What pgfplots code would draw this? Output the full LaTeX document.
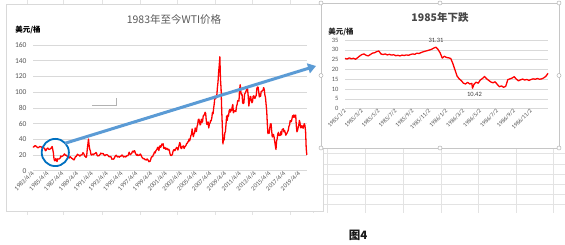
\documentclass[border=0pt]{standalone}
\usepackage{pgfplots}
\pgfplotsset{compat=1.18}
\usepackage{pgfplotstable}
\usetikzlibrary{arrows.meta}
\usepackage{fontspec}
\setmainfont{Carlito}
\newfontfamily\cjk{Noto Sans CJK SC}
\definecolor{tickgray}{HTML}{595959}
\definecolor{gridgray}{HTML}{D9D9D9}
\definecolor{sheetgray}{HTML}{E3E3E3}
\definecolor{arrowblue}{HTML}{5B9BD5}
\definecolor{circblue}{HTML}{0070C0}
\definecolor{wtired}{HTML}{FF0000}

% monthly WTI, Apr 1983 ... Apr 2020
\pgfplotstableread[row sep=\\, header=false]{
30.6\\30.0\\31.0\\31.7\\31.9\\31.1\\30.4\\29.8\\29.2\\
29.7\\30.1\\30.8\\30.6\\30.5\\29.8\\28.7\\29.2\\29.3\\28.8\\28.1\\25.4\\
25.6\\27.3\\28.2\\28.8\\27.6\\27.1\\27.3\\27.8\\28.3\\29.5\\30.8\\27.2\\
22.9\\15.4\\12.6\\12.8\\15.4\\13.5\\11.6\\15.1\\14.9\\14.9\\15.2\\16.1\\
18.7\\17.7\\18.3\\18.6\\19.4\\20.0\\21.4\\20.3\\19.5\\19.8\\18.9\\17.3\\
17.1\\16.8\\16.2\\17.9\\17.4\\16.5\\15.5\\15.5\\14.5\\13.8\\14.0\\16.3\\
18.0\\17.9\\19.4\\21.0\\20.0\\20.0\\19.6\\18.5\\19.6\\20.1\\19.8\\21.1\\
22.9\\22.1\\20.4\\18.4\\18.2\\16.9\\18.6\\27.2\\33.7\\40.4\\32.3\\27.3\\
25.2\\20.5\\19.9\\20.8\\21.2\\20.2\\21.4\\21.7\\21.9\\23.2\\22.5\\19.5\\
18.8\\19.0\\18.9\\20.2\\20.9\\22.4\\21.8\\21.4\\21.9\\21.7\\20.3\\19.4\\
19.1\\20.1\\20.3\\20.3\\19.9\\19.1\\17.9\\18.0\\17.5\\18.2\\16.7\\14.5\\
15.0\\14.8\\14.7\\16.4\\17.9\\19.1\\19.7\\18.4\\17.5\\17.7\\18.1\\17.2\\
18.0\\18.5\\18.6\\19.9\\19.7\\18.4\\17.3\\18.0\\18.2\\17.4\\18.0\\19.0\\
18.9\\19.1\\21.4\\23.6\\21.2\\20.4\\21.3\\22.0\\24.0\\24.9\\23.7\\25.4\\
25.2\\22.2\\21.0\\19.7\\20.8\\19.2\\19.6\\19.9\\19.8\\21.3\\20.2\\18.3\\
16.7\\16.1\\15.0\\15.4\\14.9\\13.7\\14.2\\13.5\\15.0\\14.4\\12.9\\11.3\\
12.5\\12.0\\14.7\\17.3\\17.8\\17.9\\20.1\\21.3\\23.9\\22.6\\25.0\\26.1\\
27.3\\29.4\\29.9\\25.7\\28.8\\31.8\\29.8\\31.2\\33.9\\33.1\\34.4\\28.4\\
29.6\\29.6\\27.2\\27.4\\28.6\\27.6\\26.4\\27.4\\26.2\\22.2\\19.6\\19.3\\
19.7\\20.7\\24.4\\26.3\\27.0\\25.5\\26.9\\28.4\\29.7\\28.9\\26.3\\29.4\\
32.9\\35.9\\33.6\\28.3\\28.1\\30.7\\30.8\\31.6\\28.3\\30.3\\31.1\\32.1\\
34.3\\34.7\\36.7\\36.7\\40.3\\38.0\\40.7\\44.9\\45.9\\53.1\\48.5\\43.3\\
46.8\\48.0\\54.3\\53.0\\49.8\\56.3\\58.7\\65.0\\65.6\\62.4\\58.3\\59.4\\
65.5\\61.6\\62.7\\69.4\\70.8\\70.9\\74.4\\73.0\\63.8\\58.9\\59.1\\62.0\\
54.5\\59.3\\60.4\\63.9\\63.5\\67.5\\74.1\\72.4\\79.9\\85.8\\94.8\\91.7\\
93.0\\95.4\\105.5\\112.6\\125.4\\133.9\\145.0\\116.7\\104.1\\76.6\\57.3\\34.0\\
41.7\\39.1\\47.9\\49.7\\59.0\\69.6\\64.1\\71.0\\69.4\\75.7\\78.0\\74.5\\
78.3\\76.4\\81.2\\84.3\\73.7\\75.3\\76.3\\76.6\\75.2\\81.9\\84.3\\89.2\\
89.2\\88.6\\102.9\\109.5\\100.9\\96.3\\97.3\\86.3\\85.5\\86.3\\97.2\\98.6\\
100.3\\102.2\\106.2\\103.3\\94.7\\82.3\\87.9\\94.1\\94.5\\89.5\\86.5\\87.9\\
94.8\\95.3\\92.9\\92.0\\94.5\\95.8\\104.6\\106.6\\106.3\\100.5\\93.9\\97.6\\
94.6\\100.8\\100.8\\102.1\\102.2\\105.8\\103.6\\96.5\\93.2\\84.4\\75.8\\59.3\\
47.2\\50.6\\47.8\\54.5\\59.3\\59.8\\50.9\\42.9\\45.5\\46.2\\42.4\\37.2\\
31.7\\27.0\\37.6\\40.8\\46.7\\48.8\\44.7\\44.7\\45.2\\49.8\\45.7\\52.0\\
52.5\\53.5\\49.3\\51.1\\48.5\\45.2\\46.6\\48.0\\49.8\\51.6\\56.6\\57.9\\
63.7\\62.2\\62.7\\66.3\\70.0\\67.9\\71.0\\68.1\\70.2\\70.8\\57.0\\49.5\\
51.4\\55.0\\58.2\\63.9\\60.8\\54.7\\57.4\\54.8\\57.0\\54.0\\57.0\\59.9\\
57.5\\50.5\\29.2\\20.0\\
}\wti

% 1985-1986, x in months since 1985/1/2
\pgfplotstableread{
m v
0.00 25.6
0.25 25.3
0.50 25.9
0.75 25.4
1.00 25.7
1.25 25.2
1.50 26.0
1.75 26.9
2.00 27.6
2.25 27.9
2.50 27.2
2.75 26.9
3.00 27.6
3.25 28.3
3.50 28.5
3.75 29.1
4.00 29.4
4.25 27.9
4.50 27.6
4.75 27.9
5.00 27.4
5.25 27.7
5.50 27.3
5.75 27.5
6.00 27.0
6.25 27.2
6.50 26.9
6.75 27.3
7.00 27.1
7.25 27.4
7.50 27.2
7.75 27.6
8.00 27.9
8.25 27.7
8.50 28.3
8.75 28.1
9.00 28.6
9.25 29.0
9.50 29.3
9.75 29.6
10.00 29.9
10.25 30.3
10.50 30.9
10.75 31.31
11.00 30.2
11.25 28.4
11.50 25.8
11.75 26.7
12.00 26.1
12.25 25.9
12.50 25.6
12.75 23.0
13.00 19.8
13.25 16.6
13.50 15.2
13.75 14.3
14.00 13.0
14.25 12.6
14.50 13.4
14.75 12.6
15.00 12.9
15.07 10.42
15.25 12.4
15.50 13.5
15.75 13.0
16.00 14.6
16.25 15.4
16.50 16.4
16.75 15.2
17.00 14.4
17.25 13.6
17.50 13.2
17.75 13.7
18.00 12.4
18.25 11.2
18.50 11.6
18.75 10.9
19.00 11.4
19.25 14.8
19.50 15.2
19.75 15.6
20.00 16.3
20.25 15.1
20.50 14.2
20.75 14.7
21.00 15.1
21.25 14.6
21.50 14.9
21.75 14.4
22.00 14.9
22.25 15.2
22.50 15.0
22.75 15.4
23.00 15.0
23.25 15.2
23.50 15.7
23.75 16.5
24.00 18.0
}\crash

\pgfplotsset{
  excelstyle/.style={
    scale only axis,
    anchor=south west,
    axis lines*=left,
    axis line style={draw=none},
    tick style={draw=none},
    ymajorgrids,
    major grid style={gridgray, line width=0.6pt},
    /pgf/number format/assume math mode=true,
    clip=false,
  }
}

\begin{document}
\begin{tikzpicture}[x=1pt,y=1pt]
\path[use as bounding box, fill=white] (0,0) rectangle (565,245);

% spreadsheet grid lines
\begin{scope}[sheetgray, line width=0.6pt]
  \foreach \x in {27,63,102,140,177,215,252,290} {
    \draw (\x,241) -- (\x,245);
    \draw (\x,30) -- (\x,34);
  }
  \foreach \x in {327,365,403,441,478,516,553} \draw (\x,32) -- (\x,97);
  \foreach \y in {92,81,71,61,51,41} \draw (322,\y) -- (565,\y);
  \draw (313,32) -- (313,97);
\end{scope}

% left panel
\draw[gridgray, fill=white, line width=0.7pt] (6,34) rectangle (323,241);
\node[font=\cjk\fontsize{10.5}{12}\selectfont, text=tickgray] at (174,225.5) {1983年至今WTI价格};
\node[font=\cjk\bfseries\fontsize{7.5}{9}\selectfont, text=black] at (28,215) {美元/桶};

\begin{axis}[excelstyle,
  at={(33pt,74.3pt)}, width=273.8pt, height=125.7pt,
  xmin=0, xmax=444, ymin=0, ymax=160,
  ytick={0,20,...,160},
  xtick={0,24,...,432},
  xticklabels={1983/4/4,1985/4/4,1987/4/4,1989/4/4,1991/4/4,1993/4/4,1995/4/4,1997/4/4,1999/4/4,2001/4/4,2003/4/4,2005/4/4,2007/4/4,2009/4/4,2011/4/4,2013/4/4,2015/4/4,2017/4/4,2019/4/4},
  yticklabel style={font=\fontsize{7.5}{8}\selectfont, text=tickgray, xshift=-3pt},
  xticklabel style={font=\fontsize{6.5}{7}\selectfont, text=tickgray, rotate=45, anchor=east, inner sep=1pt, yshift=-1pt},
]
\addplot[wtired, line width=1.3pt, line join=round] table[x expr=\coordindex, y index=0] {\wti};
\end{axis}

% small artefact
\draw[gray!60, line width=0.8pt] (92,140) -- (116,140) -- (116,147);

% right panel
\draw[gray!45, fill=white, line width=0.7pt] (321,97) rectangle (559,242);
\foreach \p in {(321,242),(440,242),(559,242),(321,169.5),(559,169.5),(321,97),(440,97),(559,97)}
  \draw[gray!60, fill=white, line width=0.5pt] \p circle (2);
\node[font=\cjk\bfseries\fontsize{10.5}{12}\selectfont, text=tickgray!80!black] at (440,227) {1985年下跌};
\node[font=\cjk\bfseries\fontsize{7.5}{9}\selectfont, text=black!85] at (341,213) {美元/桶};

\begin{axis}[excelstyle,
  at={(345pt,136.3pt)}, width=203pt, height=68.7pt,
  xmin=0, xmax=24, ymin=0, ymax=35,
  ytick={0,5,...,35},
  xtick={0,2,...,22},
  xticklabels={1985/1/2,1985/3/2,1985/5/2,1985/7/2,1985/9/2,1985/11/2,1986/1/2,1986/3/2,1986/5/2,1986/7/2,1986/9/2,1986/11/2},
  yticklabel style={font=\fontsize{6.5}{7}\selectfont, text=tickgray, xshift=-3pt},
  xticklabel style={font=\fontsize{6}{7}\selectfont, text=tickgray, rotate=45, anchor=east, inner sep=1pt, yshift=-1pt},
]
\addplot[wtired, line width=1.3pt, line join=round] table[x=m, y=v] {\crash};
\node[above, font=\fontsize{6.5}{7}\selectfont, text=black!75, yshift=1pt] at (axis cs:10.75,31.31) {31.31};
\node[below, font=\fontsize{6.5}{7}\selectfont, text=black!75, yshift=-1pt] at (axis cs:15.3,10.42) {10.42};
\end{axis}

% circle and arrow
\draw[circblue, line width=1.8pt] (55.3,92.5) circle (13.6);
\draw[arrowblue, line width=3pt, -{Triangle[length=8pt,width=10pt]}] (65,101.7) -- (316,179);

% caption
\node[font=\cjk\bfseries\fontsize{11.5}{13}\selectfont, text=black!90] at (358,10) {图4};
\end{tikzpicture}
\end{document}
